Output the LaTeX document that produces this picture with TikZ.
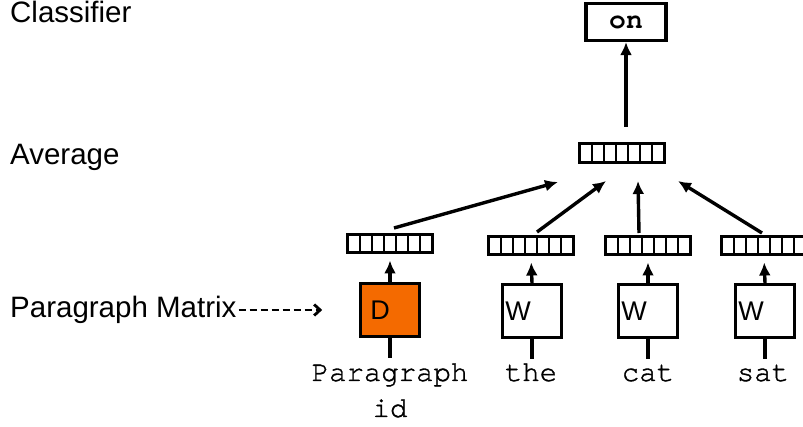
\documentclass[tikz,border=0pt]{standalone}
\usepackage{fontspec}
\setmainfont{Liberation Sans}
\setmonofont{TeX Gyre Cursor}
\newfontfamily\wordfont[FakeBold=1.2]{TeX Gyre Cursor}
\usetikzlibrary{arrows.meta,calc}
\definecolor{dorange}{HTML}{F46A00}

\tikzset{
  lbl/.style={anchor=base west, inner sep=0pt, font=\fontsize{29.5}{34}\selectfont},
  word/.style={anchor=base, inner sep=0pt, font=\wordfont\fontsize{29}{34}\selectfont},
  vecbox/.style={draw, line width=3pt, minimum width=85pt, minimum height=18pt,
    inner sep=0pt, fill=white,
    path picture={
      \foreach \i in {1,...,6}{
        \draw[line width=2pt]
          ($(path picture bounding box.north west)!\i/7!(path picture bounding box.north east)$) --
          ($(path picture bounding box.south west)!\i/7!(path picture bounding box.south east)$);
      }}},
  embbox/.style={draw, line width=2.6pt, minimum width=59pt, minimum height=53pt, inner sep=0pt},
  letter/.style={anchor=base west, inner sep=0pt, font=\fontsize{27}{30}\selectfont},
  arr/.style={line width=3.4pt, -{Latex[length=13pt,width=12pt]}},
  stem/.style={line width=3.2pt},
}

\begin{document}
\begin{tikzpicture}[x=1pt,y=-1pt]
  \useasboundingbox (0,0) rectangle (803,427);

  % row labels
  \node[lbl] (lclass) at (10,23) {Classifier};
  \node[lbl] (lavg)   at (10,165) {Average};
  \node[lbl] (lpm)    at (10,318) {Paragraph Matrix};

  % classifier output
  \node[draw, line width=3.2pt, minimum width=80pt, minimum height=37pt, inner sep=0pt,
        font=\ttfamily\bfseries\fontsize{28}{30}\selectfont] (out) at (626,22) {on};

  % averaged vector
  \node[vecbox, minimum height=19pt] (avg) at (622,153) {};

  % input vectors
  \node[vecbox] (pv) at (390,244) {};
  \node[vecbox] (v1) at (531,246) {};
  \node[vecbox] (v2) at (648,246) {};
  \node[vecbox] (v3) at (764,246) {};

  % embedding boxes
  \node[embbox, fill=dorange] (bd) at (390,310) {};
  \node[embbox] (bw1) at (532,311) {};
  \node[embbox] (bw2) at (648,311) {};
  \node[embbox] (bw3) at (765,311) {};
  \node[letter] (td)  at ($(bd.west)+(11,10)$)  {D};
  \node[letter] (tw1) at ($(bw1.west)+(4,10)$) {W};
  \node[letter] (tw2) at ($(bw2.west)+(4,10)$) {W};
  \node[letter] (tw3) at ($(bw3.west)+(4,10)$) {W};

  % input tokens
  \node[word] (wp)  at (390,381) {Paragraph};
  \node[word] (wid) at (390,417) {id};
  \node[word] (w1)  at (531,381) {the};
  \node[word] (w2)  at (648,381) {cat};
  \node[word] (w3)  at (763,381) {sat};

  % stems from tokens into the boxes
  \foreach \b in {bd,bw1,bw2,bw3}{
    \coordinate (\b-in) at ($(\b.south)+(0,20)$);
    \draw[stem] (\b.south) -- (\b-in);
  }

  % lookup arrows
  \foreach \b/\v in {bd/pv,bw1/v1,bw2/v2,bw3/v3}{
    \draw[arr, shorten >=6pt] (\b.north) -- (\v.south);
  }

  % averaging arrows
  \coordinate (s1) at (394,228); \coordinate (e1) at (558,182);
  \coordinate (s2) at (537,232); \coordinate (e2) at (606,181);
  \coordinate (s3) at (639,233); \coordinate (e3) at (638,181);
  \coordinate (s4) at (762,233); \coordinate (e4) at (678,181);
  \draw[arr] (s1) -- (e1);
  \draw[arr] (s2) -- (e2);
  \draw[arr] (s3) -- (e3);
  \draw[arr] (s4) -- (e4);

  % to the classifier
  \draw[arr, shorten <=15pt] (avg.north -| out.south) -- (out.south);

  % paragraph matrix pointer
  \draw[line width=2.8pt, dash pattern=on 7pt off 4pt,
        -{Straight Barb[length=6pt,width=11pt]}, shorten <=2pt, shorten >=37pt]
        (lpm.east |- bd.west) -- (bd.west);
\end{tikzpicture}
\end{document}
